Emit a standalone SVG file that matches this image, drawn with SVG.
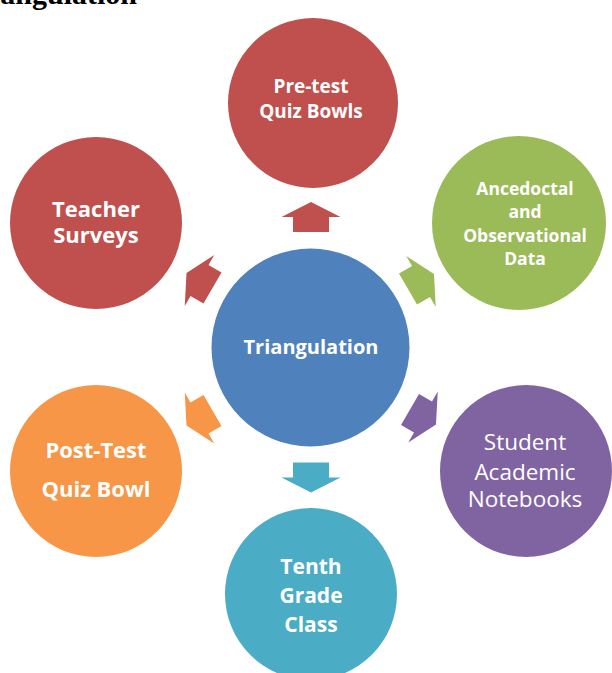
<svg xmlns="http://www.w3.org/2000/svg" width="612" height="673" viewBox="0 0 612 673">
<style>
.t{font-family:"Open Sans","Liberation Sans",sans-serif;fill:#fff;text-anchor:middle}
.b{font-weight:bold}
.red{fill:#C0504D}.grn{fill:#9BBB59}.pur{fill:#8064A2}.teal{fill:#4BACC6}.org{fill:#F79646}.blu{fill:#4F81BD}
</style>
<defs>
<path id="arr" d="M0,-15 L29.5,0 L18,0 L18,15 L-18,15 L-18,0 L-29.5,0 Z"/>
</defs>
<rect width="612" height="673" fill="#fff"/>
<text x="137" y="4" text-anchor="end" font-family="Liberation Serif,serif" font-weight="bold" font-size="30" fill="#000">angulation</text>
<g id="connectors">
<use href="#arr" class="red" transform="translate(311,217)"/>
<use href="#arr" class="grn" transform="translate(421,281.5) rotate(60)"/>
<use href="#arr" class="pur" transform="translate(423,417) rotate(120)"/>
<use href="#arr" class="teal" transform="translate(311,477.5) rotate(180)"/>
<use href="#arr" class="org" transform="translate(199.5,418) rotate(-120)"/>
<use href="#arr" class="red" transform="translate(199.5,280.5) rotate(-60)"/>
</g>
<g id="center">
<circle class="blu" cx="310.5" cy="347.5" r="99"/>
<text class="t b" x="311" y="354" font-size="20">Triangulation</text>
</g>
<g id="pretest">
<circle class="red" cx="313" cy="103" r="85"/>
<text class="t b" x="311" y="93" font-size="19">Pre-test</text>
<text class="t b" x="311" y="118" font-size="19">Quiz Bowls</text>
</g>
<g id="anecdotal">
<circle class="grn" cx="519" cy="223" r="87"/>
<text class="t b" x="525" y="195" font-size="17.5">Ancedoctal</text>
<text class="t b" x="525" y="218" font-size="17.5">and</text>
<text class="t b" x="525" y="241.5" font-size="17.5">Observational</text>
<text class="t b" x="525" y="265" font-size="17.5">Data</text>
</g>
<g id="notebooks">
<circle class="pur" cx="526" cy="471" r="86"/>
<text class="t" x="525" y="450" font-size="22.5">Student</text>
<text class="t" x="525" y="480" font-size="22.5">Academic</text>
<text class="t" x="525" y="507" font-size="22.5">Notebooks</text>
</g>
<g id="tenth">
<circle class="teal" cx="311" cy="594" r="86"/>
<text class="t b" x="311" y="574" font-size="21">Tenth</text>
<text class="t b" x="311" y="603" font-size="21">Grade</text>
<text class="t b" x="311" y="632" font-size="21">Class</text>
</g>
<g id="posttest">
<circle class="org" cx="96" cy="471" r="86"/>
<text class="t b" x="96" y="458" font-size="22">Post-Test</text>
<text class="t b" x="96" y="497" font-size="22">Quiz Bowl</text>
</g>
<g id="teacher">
<circle class="red" cx="96" cy="223" r="86"/>
<text class="t b" x="96" y="217" font-size="22">Teacher</text>
<text class="t b" x="96" y="243" font-size="22">Surveys</text>
</g>
</svg>
